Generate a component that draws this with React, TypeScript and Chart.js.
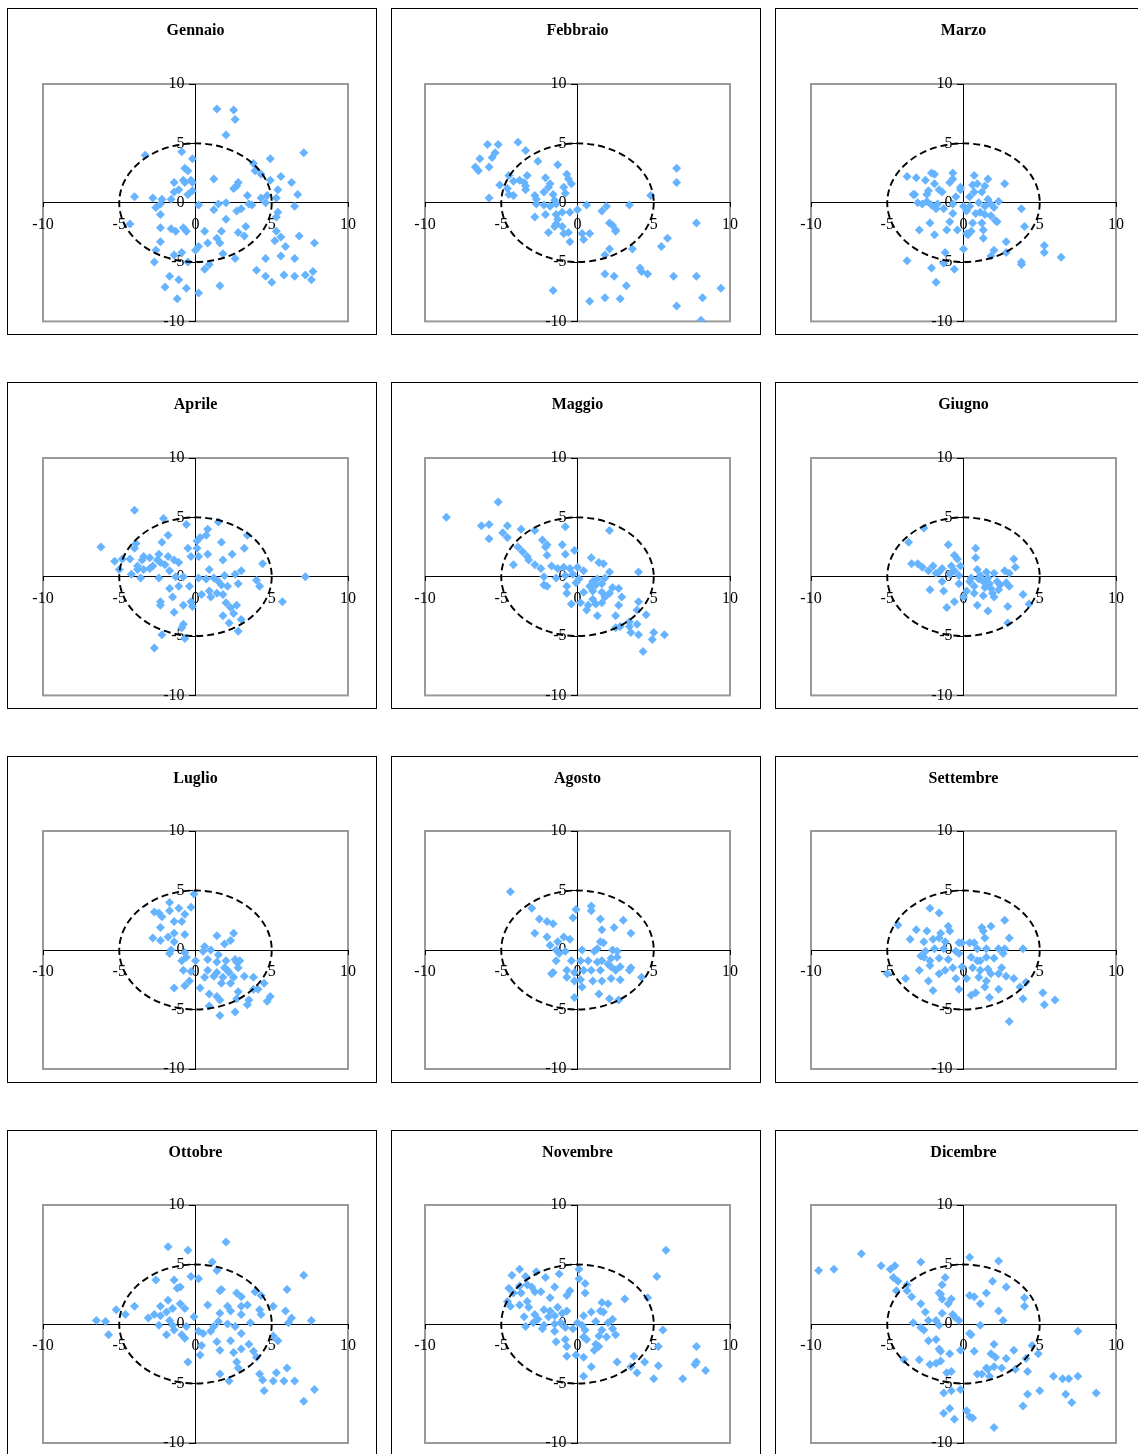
import React, { useEffect, useRef } from 'react';
import { Chart, registerables } from 'chart.js';

Chart.register(...registerables);

const MONTHS = ['Gennaio', 'Febbraio', 'Marzo', 'Aprile', 'Maggio', 'Giugno', 'Luglio', 'Agosto', 'Settembre', 'Ottobre', 'Novembre', 'Dicembre'];
const TICKS = [-10, -5, 0, 5, 10];
const AXIS_MIN = -10;
const AXIS_MAX = 10;
const CIRCLE_RADIUS = 5;

type P = [number, number];

const GENNAIO: P[] = [[1.4,7.9],[2.5,7.8],[2.6,7.0],[2.0,5.7],[7.1,4.2],[-3.3,4.0],[-0.9,4.3],[-0.2,3.7],[4.9,3.7],[3.8,3.3],[-0.7,2.9],[-0.5,2.7],[3.9,2.7],[4.3,2.4],[5.6,2.2],[1.2,2.0],[4.9,1.9],[-0.8,1.9],[-0.3,1.9],[-0.7,1.7],[-0.2,1.7],[-1.4,1.7],[2.8,1.7],[6.3,1.7],[2.7,1.4],[2.5,1.2],[5.4,1.1],[-1.4,0.9],[-1.1,1.1],[-0.2,1.0],[-0.5,0.7],[6.7,0.7],[3.4,0.6],[-4.0,0.5],[-2.8,0.4],[-2.2,0.3],[-1.6,0.3],[4.3,0.4],[4.7,0.6],[5.3,0.4],[-2.3,-0.1],[-2.6,-0.4],[0.2,-0.2],[1.5,-0.1],[2.0,0.0],[3.5,-0.1],[3.7,-0.2],[4.6,0.0],[6.5,-0.3],[1.2,-0.6],[2.7,-0.7],[3.0,-0.5],[5.4,-0.8],[5.3,-1.2],[-2.3,-1.0],[-4.3,-1.8],[2.0,-1.4],[3.3,-2.0],[-2.3,-2.1],[-1.6,-2.2],[-1.3,-2.4],[-0.8,-2.1],[-0.6,-2.4],[0.6,-2.4],[1.7,-2.4],[2.8,-2.5],[3.2,-2.8],[5.3,-2.4],[5.6,-2.9],[6.8,-2.8],[1.4,-3.0],[1.6,-3.4],[0.8,-3.4],[-2.3,-3.3],[5.2,-3.2],[7.8,-3.4],[5.9,-3.7],[0.2,-3.7],[0.0,-4.0],[1.8,-4.3],[-2.6,-4.0],[-0.9,-4.2],[-1.4,-4.4],[-0.5,-5.0],[5.6,-4.5],[6.5,-4.7],[4.6,-4.7],[2.6,-4.7],[-2.7,-5.0],[0.9,-5.2],[0.6,-5.6],[4.0,-5.7],[-1.7,-6.2],[-1.1,-6.5],[4.6,-6.2],[5.8,-6.1],[5.0,-6.7],[6.5,-6.2],[7.2,-6.1],[7.7,-5.8],[7.6,-6.5],[1.6,-7.0],[-2.0,-7.1],[-0.6,-7.2],[0.2,-7.6],[-1.2,-8.1]];

const FEBBRAIO: P[] = [[-5.9,4.9],[-5.2,4.9],[-3.9,5.1],[-3.4,4.4],[-5.4,4.2],[-5.6,3.8],[-6.4,3.7],[-2.6,3.5],[-6.7,3.0],[-5.8,3.0],[-6.5,2.7],[-1.3,3.2],[6.5,2.9],[-4.5,2.3],[-3.3,2.3],[-0.7,2.4],[-4.2,1.8],[-3.8,1.9],[-3.5,1.7],[-2.1,2.1],[-0.6,2.0],[-0.4,1.6],[-1.8,1.6],[-1.9,1.3],[-0.9,1.3],[6.5,1.7],[-5.1,1.5],[-4.6,1.2],[-3.4,1.1],[-3.4,1.4],[-4.5,0.7],[-4.2,0.6],[-2.2,0.9],[-1.6,0.7],[-0.8,0.8],[-5.8,0.4],[-2.8,0.6],[-2.7,0.3],[-1.5,0.2],[4.8,0.6],[-2.7,-0.1],[-2.2,-0.2],[-1.8,-0.3],[-1.4,-0.1],[0.6,-0.2],[1.9,-0.3],[3.4,-0.2],[1.6,-0.7],[0.0,-0.6],[-0.5,-0.8],[-1.0,-0.8],[-1.4,-1.0],[-2.1,-1.0],[-2.8,-1.2],[-1.3,-1.4],[-1.4,-1.8],[2.1,-1.7],[2.3,-1.9],[7.8,-1.7],[-1.5,-2.0],[-1.0,-2.0],[-0.6,-2.5],[-0.9,-2.6],[-1.9,-2.5],[2.5,-2.3],[2.5,-2.4],[0.3,-2.6],[0.8,-2.6],[-0.5,-3.3],[0.4,-3.1],[5.9,-3.0],[5.5,-3.7],[3.6,-3.9],[2.1,-3.9],[1.8,-4.4],[4.1,-5.5],[4.2,-5.8],[4.6,-6.0],[1.8,-6.0],[2.4,-6.2],[6.3,-6.2],[7.8,-6.2],[3.2,-7.0],[9.4,-7.2],[-1.6,-7.4],[1.8,-8.0],[2.8,-8.1],[8.2,-8.0],[0.8,-8.3],[6.5,-8.7],[8.1,-9.9]];

const MARZO: P[] = [[-3.7,2.2],[-3.1,2.1],[-2.1,2.5],[-1.9,2.4],[-2.5,1.9],[-0.7,2.5],[-0.7,2.0],[-0.9,1.7],[0.7,2.3],[1.6,2.0],[2.7,1.6],[-1.9,1.6],[0.6,1.5],[0.9,1.6],[1.4,1.4],[-0.2,1.3],[-0.2,1.1],[-1.6,1.1],[-1.4,0.9],[-2.3,1.0],[-3.2,0.7],[-3.3,0.7],[-2.4,0.7],[1.2,0.9],[0.7,0.9],[-0.5,0.5],[0.4,0.5],[1.6,0.3],[2.3,0.1],[-3.0,0.0],[-2.7,-0.1],[-2.4,0.1],[-2.1,-0.2],[-1.7,-0.1],[-1.8,-0.5],[-1.3,-0.5],[-0.7,-0.1],[0.0,-0.3],[0.4,-0.3],[1.0,0.0],[1.4,-0.3],[1.8,-0.1],[2.0,-0.4],[3.8,-0.5],[-0.7,-0.9],[0.2,-0.7],[0.8,-0.9],[1.1,-0.8],[1.4,-1.0],[1.8,-1.1],[2.1,-1.5],[2.2,-1.6],[-2.2,-1.7],[-0.9,-1.6],[0.6,-1.7],[1.2,-1.7],[4.0,-2.0],[-2.9,-2.3],[-1.1,-2.3],[-0.4,-2.3],[-1.9,-2.7],[0.5,-2.4],[0.3,-2.7],[0.2,-2.6],[1.3,-2.3],[1.3,-3.0],[2.8,-3.3],[5.3,-3.6],[5.3,-4.2],[6.4,-4.6],[2.0,-4.0],[2.8,-4.2],[1.8,-4.5],[0.0,-3.9],[-1.2,-4.2],[-1.3,-5.1],[-0.6,-5.6],[-2.1,-5.5],[-3.7,-4.9],[3.8,-5.0],[3.8,-5.2],[-1.8,-6.7]];

const APRILE: P[] = [[-4.0,5.6],[-2.1,4.9],[-0.6,4.4],[1.5,4.6],[0.8,4.0],[0.7,3.5],[-1.8,3.5],[3.4,3.5],[0.3,3.3],[0.1,3.0],[-2.2,2.9],[-3.9,2.8],[1.7,2.9],[-6.2,2.5],[-4.0,2.4],[-0.5,2.4],[0.1,2.4],[3.2,2.4],[2.4,1.9],[0.8,1.9],[-0.3,1.7],[0.2,1.7],[-2.4,1.9],[-1.8,1.7],[-3.4,1.7],[-4.8,1.5],[-4.3,1.5],[-5.3,1.3],[-3.0,1.6],[-3.5,1.4],[-2.5,1.4],[-1.4,1.4],[-1.1,1.2],[1.8,1.4],[4.4,1.1],[-3.8,0.9],[-2.8,0.9],[-2.3,1.2],[-2.0,1.0],[-5.0,0.6],[-3.8,0.6],[-3.4,0.6],[-3.0,0.7],[-1.7,0.5],[0.9,0.6],[3.0,0.5],[-4.2,0.2],[-3.6,-0.1],[-2.4,-0.1],[-1.3,0.0],[-0.8,0.0],[0.2,-0.1],[0.7,-0.2],[1.2,-0.1],[1.9,0.1],[2.6,0.2],[7.2,0.0],[4.0,-0.3],[1.5,-0.4],[1.7,-0.7],[2.1,-0.8],[2.8,-0.6],[4.2,-0.8],[-1.7,-1.0],[-1.1,-0.8],[-0.4,-0.8],[0.9,-1.2],[1.4,-1.4],[1.0,-1.7],[0.4,-1.5],[1.8,-1.5],[-1.5,-1.7],[-2.3,-2.1],[-2.3,-2.4],[-0.8,-2.4],[-0.3,-2.1],[-0.2,-2.5],[2.0,-2.2],[2.7,-2.4],[2.3,-2.6],[2.5,-3.1],[-1.4,-3.0],[1.8,-3.3],[3.0,-3.6],[2.2,-3.9],[2.8,-4.6],[-0.8,-4.0],[-0.9,-4.3],[-2.2,-4.9],[-0.7,-5.2],[-2.7,-6.0],[5.7,-2.1]];

const MAGGIO: P[] = [[-8.6,5.0],[-5.2,6.3],[-6.3,4.3],[-5.8,4.4],[-4.6,4.3],[-4.9,3.7],[-4.6,3.3],[-5.8,3.2],[-3.7,4.0],[-2.8,3.9],[-0.8,4.2],[2.1,3.9],[-2.3,3.1],[-2.0,2.7],[-2.1,2.5],[-1.0,2.7],[-0.2,2.2],[-3.9,2.5],[-3.6,2.1],[-3.3,1.7],[-3.2,1.4],[-2.0,1.8],[-0.8,1.9],[0.9,1.6],[1.4,1.2],[1.7,1.1],[-4.2,1.0],[-2.8,1.0],[-2.4,0.7],[-1.7,0.9],[-1.3,0.7],[-0.9,0.8],[-0.5,0.7],[0.0,0.8],[0.4,0.5],[4.0,0.4],[2.1,0.4],[-2.2,0.0],[-1.4,-0.1],[-0.8,0.1],[-0.3,0.2],[0.1,-0.2],[1.0,-0.4],[1.3,-0.2],[1.8,-0.1],[-2.2,-0.7],[-2.0,-0.8],[-0.7,-0.8],[-0.1,-0.5],[0.8,-0.8],[1.2,-0.7],[1.6,-0.6],[2.3,-0.9],[2.7,-1.0],[-0.7,-1.4],[0.4,-1.3],[1.0,-1.2],[1.6,-1.3],[2.1,-1.4],[2.9,-1.7],[-0.4,-2.3],[0.2,-2.2],[0.7,-2.4],[1.2,-2.3],[1.6,-2.2],[2.7,-2.4],[4.0,-2.1],[0.6,-2.8],[1.3,-3.3],[2.5,-3.3],[4.5,-3.2],[3.9,-2.8],[2.5,-4.3],[2.8,-4.2],[3.4,-3.8],[3.4,-4.2],[3.9,-4.0],[3.5,-4.7],[4.0,-4.9],[5.0,-4.7],[4.9,-5.3],[5.7,-4.9],[4.3,-6.3],[1.8,-1.7],[1.0,-1.9]];

const GIUGNO: P[] = [[-2.6,4.1],[-3.6,2.9],[-1.0,2.7],[0.8,2.4],[-0.6,1.8],[-0.4,1.5],[0.8,1.6],[3.3,1.5],[-3.4,1.1],[-3.0,1.1],[-2.7,0.8],[-2.0,0.9],[-1.4,0.7],[-0.8,0.9],[-0.2,0.9],[3.4,0.8],[-2.3,0.5],[-1.8,0.3],[-0.6,0.5],[-0.3,0.1],[0.9,0.6],[1.5,0.4],[2.0,0.3],[2.7,0.5],[3.0,0.3],[-1.4,-0.4],[-0.3,-0.6],[0.5,-0.1],[1.0,-0.2],[1.6,-0.1],[2.2,-0.4],[2.8,-0.5],[3.0,-0.8],[-2.2,-1.1],[-1.3,-1.2],[0.7,-0.8],[1.4,-0.9],[1.8,-1.0],[2.3,-1.1],[3.9,-1.5],[0.0,-1.7],[0.7,-1.4],[1.3,-1.6],[2.0,-1.7],[-0.6,-2.1],[-1.1,-2.6],[0.9,-2.4],[1.6,-2.9],[2.9,-2.5],[4.3,-2.3],[2.9,-3.9],[1.7,-0.6],[1.3,-0.4],[0.4,-0.4],[1.1,0.1],[2.4,-0.7],[1.9,-1.4],[0.2,-1.2],[-1.6,0.4],[-0.9,0.2]];

const LUGLIO: P[] = [[-0.1,4.7],[-1.7,4.0],[-2.7,3.2],[-2.4,3.1],[-2.2,2.8],[-1.7,3.3],[-1.1,3.5],[-0.3,3.6],[-0.7,3.0],[-0.9,2.4],[-1.4,2.4],[-2.3,1.9],[-2.8,1.0],[-2.3,0.8],[-1.4,1.4],[-0.7,1.3],[-1.8,1.1],[1.4,1.2],[2.5,1.4],[1.9,0.5],[2.3,0.8],[-1.4,0.7],[-1.6,0.0],[-1.7,-0.3],[-0.7,-0.2],[0.6,0.3],[0.5,-0.1],[1.0,0.0],[1.5,-0.4],[-0.9,-0.9],[-0.6,-0.6],[0.0,-0.9],[0.8,-0.8],[1.4,-1.0],[2.0,-0.9],[2.6,-0.8],[2.9,-0.9],[-0.8,-1.7],[-0.3,-1.8],[0.8,-1.7],[1.4,-1.9],[1.9,-1.5],[2.2,-1.9],[2.8,-1.5],[3.2,-2.2],[2.5,-2.3],[1.8,-2.3],[-0.7,-3.0],[-0.4,-2.6],[0.3,-3.2],[-1.4,-3.2],[1.2,-2.2],[0.6,-2.3],[1.7,-2.8],[2.3,-2.8],[3.8,-2.3],[4.5,-2.8],[4.1,-3.3],[3.8,-3.3],[2.8,-3.5],[0.9,-3.7],[1.4,-3.9],[1.6,-4.2],[2.7,-4.1],[3.4,-4.6],[3.5,-4.2],[4.9,-3.9],[4.7,-4.3],[0.9,-4.7],[2.6,-5.2],[1.6,-5.5],[2.7,-1.0],[2.1,-1.7]];

const AGOSTO: P[] = [[-4.4,4.9],[-3.0,3.5],[-2.5,2.6],[-2.0,2.4],[-1.6,2.2],[-2.8,1.4],[-2.0,1.1],[-1.8,0.4],[-1.3,0.7],[-0.9,1.1],[-0.5,0.9],[-0.1,3.4],[-0.3,2.7],[0.9,3.7],[0.9,3.3],[1.5,2.6],[3.0,2.5],[2.4,1.9],[1.6,1.7],[3.5,1.4],[1.5,0.7],[1.7,0.6],[0.3,0.0],[1.1,-0.1],[1.3,0.1],[2.3,0.0],[2.6,-0.1],[-1.4,0.0],[-1.2,-0.3],[-0.8,-0.1],[-1.4,-0.9],[-0.4,-0.9],[0.2,-0.9],[0.7,-0.9],[1.3,-1.0],[1.6,-0.9],[2.2,-0.7],[2.6,-0.6],[2.8,-1.4],[3.5,-1.5],[3.4,-1.7],[-1.6,-1.9],[-0.7,-1.7],[-0.2,-1.9],[0.4,-1.7],[0.9,-1.7],[1.5,-1.7],[2.2,-1.4],[2.5,-1.7],[-0.7,-2.3],[-0.2,-2.6],[0.2,-2.5],[1.0,-2.6],[1.6,-2.6],[2.2,-2.4],[2.8,-2.5],[4.2,-2.3],[0.3,-3.1],[1.4,-3.7],[-0.2,-4.0],[2.1,-4.1],[2.7,-4.2],[-1.7,-2.0],[2.0,-1.2]];

const SETTEMBRE: P[] = [[-2.2,3.5],[-1.6,3.1],[-4.3,2.1],[-3.1,1.7],[-2.4,1.6],[-1.0,2.0],[-0.9,1.6],[1.2,1.9],[1.8,2.0],[1.3,1.6],[2.7,2.5],[3.0,1.0],[-3.5,0.9],[-2.6,0.7],[-2.0,0.9],[-1.6,1.0],[-1.5,1.4],[-1.2,0.7],[1.4,1.0],[-0.3,0.6],[-0.1,0.6],[0.4,0.6],[0.7,0.6],[-2.5,-0.1],[-1.9,0.1],[-1.3,0.1],[-0.5,-0.1],[0.9,0.1],[1.5,0.1],[2.3,0.1],[2.7,0.1],[3.9,0.1],[-2.8,-0.5],[-2.2,-0.9],[-1.6,-0.7],[-1.0,-0.8],[-0.3,-0.3],[0.5,-0.6],[0.9,-0.9],[1.5,-0.6],[2.0,-0.7],[2.6,-0.3],[-2.9,-1.7],[-2.2,-1.3],[-1.6,-2.0],[-1.2,-1.7],[-0.7,-1.5],[-0.1,-1.4],[0.6,-1.5],[1.1,-1.7],[1.6,-1.6],[2.5,-1.5],[-0.5,-2.4],[0.2,-2.4],[1.0,-2.3],[1.5,-2.6],[1.8,-2.0],[2.3,-2.0],[2.8,-2.2],[3.3,-2.4],[4.1,-2.7],[-2.3,-2.6],[-3.8,-2.4],[-5.0,-2.0],[-2.0,-3.4],[-0.3,-3.3],[1.4,-3.1],[2.3,-3.3],[0.5,-3.8],[0.8,-3.6],[1.7,-4.0],[3.7,-3.1],[3.9,-4.1],[5.2,-3.6],[5.3,-4.6],[6.0,-4.2],[3.0,-6.0],[-2.6,-0.6],[1.1,-0.9]];

const OTTOBRE: P[] = [[-1.8,6.5],[-0.5,6.2],[2.0,6.9],[1.1,5.2],[1.4,4.5],[7.1,4.1],[-2.6,3.7],[-1.4,3.7],[-0.3,4.0],[0.2,3.8],[6.0,2.9],[-1.2,3.0],[-1.0,3.1],[1.6,2.8],[1.7,2.9],[2.7,2.6],[3.0,2.3],[3.9,2.7],[4.3,2.4],[-1.8,2.0],[-1.0,1.7],[-4.0,1.5],[-5.2,1.2],[-2.3,1.5],[-1.5,1.3],[-0.7,1.3],[0.8,1.6],[2.1,1.5],[3.0,1.5],[3.4,1.6],[4.2,1.2],[5.1,1.5],[5.9,1.1],[-4.6,0.8],[-2.7,0.8],[-2.3,0.7],[-3.1,0.5],[-1.9,1.0],[1.6,0.9],[2.3,1.1],[3.0,0.8],[4.3,0.8],[6.3,0.5],[-6.5,0.3],[-5.9,0.2],[7.6,0.3],[-2.4,-0.1],[-1.7,0.3],[-0.6,-0.2],[-0.1,0.6],[1.5,0.2],[2.1,0.0],[2.6,-0.2],[3.6,0.1],[6.1,0.1],[-5.7,-0.9],[-1.9,-0.9],[-1.4,-0.5],[-0.9,-0.9],[-0.7,-1.2],[0.2,-0.6],[0.5,-0.8],[1.0,-0.6],[1.2,-0.2],[3.0,-0.8],[5.1,-1.0],[5.4,-1.4],[1.4,-1.5],[1.6,-2.2],[2.3,-1.4],[3.0,-2.1],[3.5,-1.7],[3.8,-2.3],[2.5,-2.4],[0.4,-1.8],[0.3,-2.6],[-0.5,-3.2],[2.7,-3.2],[4.0,-2.8],[2.8,-3.7],[1.6,-4.2],[2.2,-4.8],[4.2,-4.2],[4.4,-4.7],[5.1,-4.8],[5.3,-4.1],[5.8,-4.8],[6.0,-3.7],[6.5,-4.8],[4.5,-5.6],[7.8,-5.5],[7.1,-6.5],[-1.5,-0.1]];

const NOVEMBRE: P[] = [[5.8,6.2],[5.2,4.0],[4.6,2.2],[3.1,2.1],[-3.8,4.6],[-4.3,4.1],[-3.4,4.0],[-2.7,4.4],[-2.1,3.9],[-1.2,4.2],[0.1,4.6],[0.1,3.8],[0.5,3.4],[0.5,2.6],[-4.5,3.0],[-3.8,3.2],[-3.3,3.3],[-3.0,3.1],[-1.5,3.1],[-4.2,2.6],[-3.7,2.6],[-2.8,2.7],[-2.4,2.7],[-0.5,2.8],[-0.7,2.4],[-1.8,2.2],[-4.6,1.9],[-4.4,1.5],[-3.8,1.6],[-3.3,1.9],[-3.2,1.4],[-2.2,1.2],[-1.8,1.1],[-1.3,1.4],[-0.7,1.1],[1.6,1.8],[2.0,1.7],[1.5,1.1],[1.7,1.0],[0.9,1.0],[-3.5,0.6],[-2.8,0.8],[-2.6,0.4],[-1.9,0.6],[-1.5,0.7],[-1.0,0.9],[0.4,0.7],[1.2,0.2],[2.3,0.4],[-2.9,0.1],[-2.2,-0.1],[-1.5,0.0],[-1.1,0.1],[0.0,0.1],[0.3,-0.1],[2.0,0.1],[2.3,-0.4],[2.5,-0.9],[-3.4,-0.2],[-2.3,-0.4],[-1.5,-0.6],[-0.8,-0.3],[-0.3,-0.4],[0.5,-0.5],[1.6,-0.5],[5.6,-0.5],[-1.4,-1.5],[-0.8,-1.3],[-0.7,-1.9],[0.4,-1.1],[0.6,-1.3],[1.4,-1.0],[1.9,-1.1],[1.2,-1.7],[1.4,-1.9],[1.1,-2.2],[-0.7,-2.7],[-0.1,-2.6],[0.4,-2.8],[0.9,-3.6],[0.4,-4.4],[2.6,-3.2],[3.5,-3.6],[3.7,-2.7],[3.9,-4.1],[4.4,-3.2],[5.0,-4.6],[5.3,-1.9],[5.3,-3.5],[6.9,-4.6],[7.8,-1.9],[7.7,-3.4],[7.8,-3.2],[8.4,-3.9]];

const DICEMBRE: P[] = [[-9.5,4.5],[-8.5,4.6],[-6.7,5.9],[-5.4,4.9],[-4.8,4.6],[-4.5,4.9],[-2.8,5.2],[0.4,5.6],[2.3,5.3],[-1.2,3.9],[-4.6,3.9],[-4.3,3.6],[-3.7,3.3],[-1.4,3.3],[1.9,3.6],[2.8,3.1],[-4.4,2.8],[-3.7,2.8],[-1.6,2.6],[-1.5,2.5],[1.5,2.6],[0.4,2.4],[0.7,2.3],[-3.4,2.3],[-1.4,2.1],[-0.8,2.1],[-1.0,1.7],[4.0,2.2],[4.0,1.5],[1.1,1.7],[-2.8,1.7],[-2.5,1.0],[-1.4,0.9],[-0.7,0.8],[2.3,1.1],[2.6,0.3],[-3.3,0.1],[-2.3,0.3],[-1.8,0.3],[-1.6,-0.1],[-0.6,0.6],[-0.3,0.3],[1.1,-0.1],[-2.8,-0.3],[-2.6,-0.5],[7.5,-0.6],[0.4,-0.8],[0.5,-0.9],[-2.3,-1.4],[-1.8,-1.3],[2.0,-1.7],[4.5,-1.8],[-1.6,-2.1],[-1.5,-2.3],[-0.9,-2.5],[-0.2,-2.2],[0.7,-2.3],[1.8,-2.5],[2.1,-2.8],[3.3,-2.2],[4.9,-2.5],[-3.9,-3.0],[-2.9,-3.0],[-2.2,-3.4],[-1.8,-3.3],[-1.5,-3.1],[2.8,-2.9],[4.1,-2.9],[1.5,-3.7],[1.6,-3.8],[2.0,-3.6],[2.5,-3.7],[3.4,-3.8],[4.2,-4.0],[0.9,-4.2],[1.2,-4.2],[1.7,-4.4],[-1.1,-4.1],[-0.8,-4.0],[5.9,-4.4],[6.5,-4.6],[6.9,-4.6],[7.5,-4.4],[-0.2,-5.5],[-1.3,-5.8],[-0.8,-5.6],[4.2,-5.9],[5.0,-5.6],[6.7,-5.9],[7.1,-6.6],[8.7,-5.8],[3.9,-6.9],[-0.9,-7.1],[-1.3,-7.5],[0.2,-7.3],[0.4,-7.8],[0.6,-7.9],[-0.6,-8.0],[2.0,-8.7]];

const SERIES: P[][] = [GENNAIO, FEBBRAIO, MARZO, APRILE, MAGGIO, GIUGNO, LUGLIO, AGOSTO, SETTEMBRE, OTTOBRE, NOVEMBRE, DICEMBRE];

// ---- layout / style ----
const COL_LEFT = [7, 391, 775];
const ROW_TOP = [8, 382, 756, 1130];
const PANEL_W = 370;
const PANEL_H = 327;
const CANVAS_W = PANEL_W - 2;
const CANVAS_H = PANEL_H - 2;
const PLOT_LEFT = [35, 33, 35];
const PLOT_TOP = [75, 75, 74, 74];
const PLOT_W = 305;
const PLOT_H = 238;
const TITLE_PAD_TOP = 12;
const TITLE_LINE = 19.2;
const Y_LABEL_SHIFT = -0.72;
const POINT_COLOR = '#66B3FF';
const FONT = 'Liberation Serif';

const decorPlugin = {
  id: 'decor',
  beforeDraw(chart: any) {
    const { ctx, chartArea: a } = chart;
    ctx.save();
    ctx.strokeStyle = '#9a9a9a';
    ctx.lineWidth = 2;
    ctx.setLineDash([]);
    ctx.strokeRect(a.left, a.top, a.right - a.left, a.bottom - a.top);
    ctx.restore();
  },
  afterDatasetsDraw(chart: any) {
    const { ctx, scales } = chart;
    const x = scales.x;
    const y = scales.y;
    const cx = x.getPixelForValue(0);
    const cy = y.getPixelForValue(0);
    const rx = x.getPixelForValue(CIRCLE_RADIUS) - cx;
    const ry = cy - y.getPixelForValue(CIRCLE_RADIUS);
    ctx.save();
    ctx.strokeStyle = '#000';
    ctx.lineWidth = 1.9;
    ctx.setLineDash([7, 4]);
    ctx.beginPath();
    ctx.ellipse(cx, cy, rx, ry, 0, 0, Math.PI * 2);
    ctx.stroke();
    ctx.restore();
  },
};

const setTicks = (s: any) => {
  s.ticks = TICKS.map((v) => ({ value: v }));
};

function Panel({ index }: { index: number }) {
  const ref = useRef<HTMLCanvasElement | null>(null);
  const col = index % 3;
  const row = Math.floor(index / 3);
  useEffect(() => {
    if (!ref.current) return;
    const padLeft = PLOT_LEFT[col];
    const padRight = CANVAS_W - padLeft - PLOT_W;
    const plotTop = PLOT_TOP[row];
    const padBottom = CANVAS_H - plotTop - PLOT_H;
    const tickFont = { family: FONT, size: 16 };
    const chart = new Chart(ref.current, {
      type: 'scatter',
      data: {
        datasets: [
          {
            label: MONTHS[index],
            data: SERIES[index].map(([px, py]) => ({ x: px, y: py })),
            pointStyle: 'rectRot',
            pointRadius: 4.5,
            pointHoverRadius: 4.5,
            backgroundColor: POINT_COLOR,
            borderColor: POINT_COLOR,
            borderWidth: 0,
          },
        ],
      },
      options: {
        animation: false,
        responsive: false,
        devicePixelRatio: 1,
        events: [],
        layout: { padding: { left: padLeft, right: padRight, top: 0, bottom: padBottom } },
        plugins: {
          legend: { display: false },
          tooltip: { enabled: false },
          title: {
            display: true,
            text: MONTHS[index],
            color: '#000',
            fullSize: false,
            font: { family: FONT, size: 16, weight: 'bold' },
            padding: { top: TITLE_PAD_TOP, bottom: plotTop - TITLE_PAD_TOP - TITLE_LINE },
          },
        },
        scales: {
          x: {
            type: 'linear',
            position: { y: 0 },
            min: AXIS_MIN,
            max: AXIS_MAX,
            afterBuildTicks: setTicks,
            border: { display: true, color: '#000', width: 1 },
            grid: { display: true, drawOnChartArea: false, drawTicks: true, tickLength: 4, color: '#000' },
            ticks: { color: '#000', font: tickFont, padding: 8, maxRotation: 0, autoSkip: false, callback: (v: any) => String(v) },
          },
          y: {
            type: 'linear',
            position: { x: 0 },
            min: AXIS_MIN,
            max: AXIS_MAX,
            afterBuildTicks: setTicks,
            border: { display: true, color: '#000', width: 1 },
            grid: { display: true, drawOnChartArea: false, drawTicks: true, tickLength: 6, color: '#000' },
            ticks: { display: false },
          },
          yl: {
            type: 'linear',
            axis: 'y',
            position: { x: Y_LABEL_SHIFT },
            min: AXIS_MIN,
            max: AXIS_MAX,
            afterBuildTicks: setTicks,
            border: { display: false },
            grid: { display: false },
            ticks: { color: '#000', font: tickFont, autoSkip: false, callback: (v: any) => String(v) },
          },
        },
      } as any,
      plugins: [decorPlugin],
    });
    return () => chart.destroy();
  }, [index]);
  return (
    <div
      style={{
        position: 'absolute',
        left: COL_LEFT[col],
        top: ROW_TOP[row],
        width: PANEL_W,
        height: PANEL_H,
        boxSizing: 'border-box',
        border: '1px solid #000',
        background: '#fff',
      }}
    >
      <canvas ref={ref} width={CANVAS_W} height={CANVAS_H} style={{ display: 'block', width: CANVAS_W, height: CANVAS_H }} />
    </div>
  );
}

export default function App() {
  return (
    <div style={{ position: 'absolute', left: 0, top: 0, width: 1138, height: 1454, overflow: 'hidden', background: '#fff' }}>
      {MONTHS.map((m, i) => (
        <Panel key={m} index={i} />
      ))}
    </div>
  );
}
